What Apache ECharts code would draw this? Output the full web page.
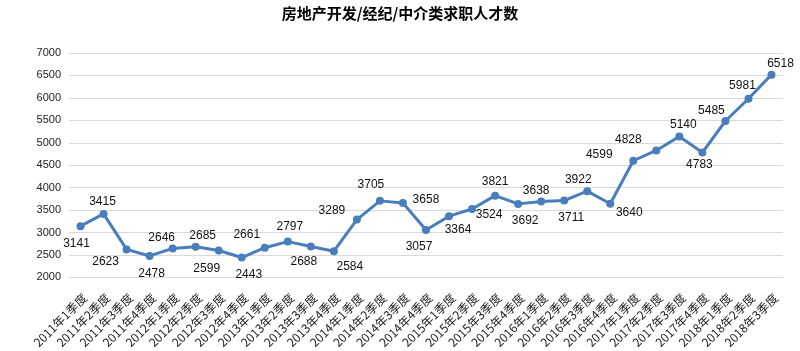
<!DOCTYPE html>
<html>
<head>
<meta charset="utf-8">
<script src="https://cdn.jsdelivr.net/npm/echarts@6/dist/echarts.min.js"></script>
<style>
  html, body { margin: 0; padding: 0; background: #fff; }
  #chart { width: 800px; height: 351px; }
</style>
</head>
<body>
<div id="chart"></div>
<script>
// quarters 2011Q1 .. 2018Q3
var categories = [
    '2011年1季度', '2011年2季度', '2011年3季度', '2011年4季度',
    '2012年1季度', '2012年2季度', '2012年3季度', '2012年4季度',
    '2013年1季度', '2013年2季度', '2013年3季度', '2013年4季度',
    '2014年1季度', '2014年2季度', '2014年3季度', '2014年4季度',
    '2015年1季度', '2015年2季度', '2015年3季度', '2015年4季度',
    '2016年1季度', '2016年2季度', '2016年3季度', '2016年4季度',
    '2017年1季度', '2017年2季度', '2017年3季度', '2017年4季度',
    '2018年1季度', '2018年2季度', '2018年3季度'
];
var talentCount = [
    3141, 3415, 2623, 2478, 2646, 2685, 2599, 2443,
    2661, 2797, 2688, 2584, 3289, 3705, 3658, 3057,
    3364, 3524, 3821, 3638, 3692, 3711, 3922, 3640,
    4599, 4828, 5140, 4783, 5485, 5981, 6518
];
// value labels were hand placed in the original, keep the nudges apart from data
var labelNudge = [
    [-4, 18], [-1, -12], [-21, 12], [2, 18], [-11, -11], [7, -11], [-12, 18], [7, 17],
    [-18, -13], [2, -15], [-7, 15], [16, 16], [-25, -9], [-9, -16], [23, -3], [-7, 17],
    [9, 14], [17, 6], [0, -14], [18, -13], [-16, 19], [7, 17], [-9, -11], [19, 9],
    [-34, -6], [-28, -11], [4, -12], [-3, 12], [-14, -10], [-6, -13], [9, -11]
];
var yTicks = {min: 2000, max: 7000, step: 500};

var seriesData = talentCount.map(function (v, i) {
    return {
        value: v,
        label: {position: 'inside', offset: labelNudge[i]}
    };
});

var chart = echarts.init(document.getElementById('chart'));
chart.setOption({
    backgroundColor: '#ffffff',
    textStyle: {fontFamily: '"Noto Sans CJK SC", "Liberation Sans", sans-serif'},
    title: {
        text: '房地产开发/经纪/中介类求职人才数',
        left: 'center',
        top: 1,
        textStyle: {
            fontSize: 15,
            fontWeight: 'bold',
            color: '#000',
            fontFamily: '"Noto Sans CJK SC", sans-serif'
        }
    },
    grid: {left: 69, right: 17, top: 53, bottom: 72},
    xAxis: {
        type: 'category',
        data: categories,
        boundaryGap: true,
        axisLine: {lineStyle: {color: '#d9d9d9'}},
        axisTick: {show: false},
        axisLabel: {
            rotate: 45,
            interval: 0,
            margin: 14,
            verticalAlign: 'top',
            fontSize: 12,
            color: '#222',
            fontFamily: '"Noto Sans CJK SC", sans-serif'
        }
    },
    yAxis: {
        type: 'value',
        min: yTicks.min,
        max: yTicks.max,
        interval: yTicks.step,
        axisLine: {show: false},
        axisTick: {show: false},
        axisLabel: {
            fontSize: 11,
            color: '#222',
            margin: 8,
            formatter: function (v) { return String(v); },
            fontFamily: '"Liberation Sans", sans-serif'
        },
        splitLine: {lineStyle: {color: '#d9d9d9'}}
    },
    series: [{
        type: 'line',
        data: seriesData,
        symbol: 'circle',
        symbolSize: 8,
        lineStyle: {color: '#4a7ebb', width: 3},
        itemStyle: {color: '#4a7ebb'},
        label: {
            show: true,
            fontSize: 12,
            color: '#111',
            fontFamily: '"Liberation Sans", sans-serif'
        },
        animation: false
    }]
});
</script>
</body>
</html>
